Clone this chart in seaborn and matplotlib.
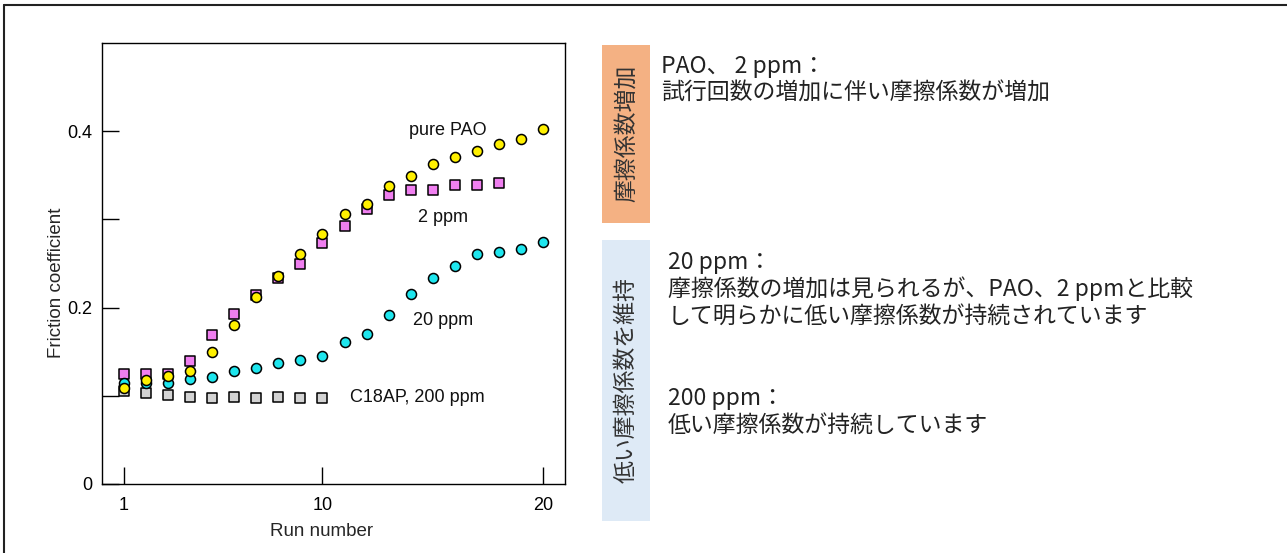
import numpy as np
import pandas as pd
import seaborn as sns
from matplotlib import pyplot as plt
from matplotlib.patches import Rectangle
from matplotlib.lines import Line2D

# 試行回数ごとの摩擦係数
run_pao = list(range(1, 21))
fric_pao = [0.109, 0.118, 0.123, 0.128, 0.150, 0.180, 0.212, 0.236, 0.261, 0.284,
            0.306, 0.317, 0.338, 0.349, 0.363, 0.371, 0.378, 0.386, 0.391, 0.403]

run_2ppm = list(range(1, 19))
fric_2ppm = [0.125, 0.125, 0.125, 0.139, 0.169, 0.193, 0.214, 0.233, 0.249, 0.273,
             0.293, 0.312, 0.328, 0.333, 0.333, 0.339, 0.339, 0.341]

run_20ppm = list(range(1, 21))
fric_20ppm = [0.115, 0.114, 0.114, 0.119, 0.121, 0.128, 0.131, 0.137, 0.141, 0.145,
              0.161, 0.170, 0.192, 0.215, 0.234, 0.247, 0.261, 0.263, 0.267, 0.274]

run_200ppm = list(range(1, 11))
fric_200ppm = [0.105, 0.103, 0.101, 0.099, 0.097, 0.099, 0.097, 0.099, 0.098, 0.098]

# 系列ラベル（位置は x, y のデータ座標）
series_labels = ['pure PAO', '2 ppm', '20 ppm', 'C18AP, 200 ppm']
label_x = [15.7, 15.45, 15.45, 11.25]
label_y = [0.401, 0.302, 0.185, 0.098]

x_ticks = [1, 10, 20]
y_ticks = [0, 0.2, 0.4]
y_minor = [0.1, 0.3]

# 右側の説明文
box_titles = ['摩擦係数増加', '低い摩擦係数を維持']
notes = [
    ('PAO、 2 ppm：', '試行回数の増加に伴い摩擦係数が増加'),
    ('20 ppm：', '摩擦係数の増加は見られるが、PAO、2 ppmと比較',
     'して明らかに低い摩擦係数が持続されています'),
    ('200 ppm：', '低い摩擦係数が持続しています'),
]

sns.set_style('white')
plt.rcParams['font.family'] = ['Liberation Sans', 'DejaVu Sans']
jp_font = ['Noto Sans CJK JP', 'DejaVu Sans']

W, H = 1287, 553
fig = plt.figure(figsize=(W / 100, H / 100), dpi=100)
ax = fig.add_axes([102 / W, 1 - 484 / H, 463 / W, 441 / H])

# 描画順: 灰 → ピンク → シアン → 黄
series = [
    (run_200ppm, fric_200ppm, 's', '#d3d3d3', 9.5),
    (run_2ppm, fric_2ppm, 's', '#f07ff0', 9.5),
    (run_20ppm, fric_20ppm, 'o', '#1ee6ee', 10),
    (run_pao, fric_pao, 'o', '#fff000', 10),
]
for i, (xs, ys, mk, col, ms) in enumerate(series):
    df = pd.DataFrame({'run': xs, 'fric': ys})
    sns.scatterplot(data=df, x='run', y='fric', marker=mk, color=col,
                    s=ms ** 2 * 0.52, edgecolor='black', linewidth=1.1,
                    zorder=3 + i, ax=ax)

for txt, lx, ly in zip(series_labels, label_x, label_y):
    ha = 'left' if txt.startswith('C18') else 'center'
    ax.text(lx, ly, txt, fontsize=13, ha=ha, va='center', color='#111111')

ax.set_xlim(0, 21)
ax.set_ylim(0, 0.5)
ax.set_xticks(x_ticks)
ax.set_xticklabels([str(t) for t in x_ticks])
ax.set_yticks(y_ticks)
ax.set_yticklabels(['0', '0.2', '0.4'])
ax.set_yticks(y_minor, minor=True)
ax.tick_params(axis='both', which='both', direction='in', length=12,
               width=1, colors='black', labelsize=13, left=True, bottom=True)
ax.tick_params(axis='x', pad=9)
ax.tick_params(axis='y', pad=7)
for sp in ax.spines.values():
    sp.set_visible(True)
    sp.set_color('black')
    sp.set_linewidth(1)

ax.set_xlabel('Run number', fontsize=13.5)
ax.set_ylabel('Friction coefficient', fontsize=13.5)
ax.xaxis.set_label_coords(0.4745, -0.108)
ax.yaxis.set_label_coords(-0.099, 0.456)
ax.xaxis.label.set_va('center')
ax.yaxis.label.set_va('center')

# 外枠（上と左）
fig.add_artist(Line2D([4 / W, 4 / W], [0, 1 - 5 / H], color='#222222', lw=1.5))
fig.add_artist(Line2D([4 / W, 1], [1 - 5 / H, 1 - 5 / H], color='#222222', lw=1.5))

# 色付きの縦ボックス
boxes = [(45, 222.7, '#f4b183'), (240, 520.7, '#deeaf6')]
for (top, bottom, col), title in zip(boxes, box_titles):
    fig.add_artist(Rectangle((602 / W, 1 - bottom / H), 48 / W, (bottom - top) / H,
                             transform=fig.transFigure, facecolor=col, edgecolor='none'))
    fig.text(626 / W, 1 - (top + bottom) / 2 / H, title, rotation=90,
             ha='center', va='center', fontsize=16.5, family=jp_font, color='#333333')

# 説明文（行ごとに配置）
note_x = [661, 668, 668]
note_y = [[66, 93], [262, 289, 316], [398, 425]]
for lines, nx, ys in zip(notes, note_x, note_y):
    for line, ly in zip(lines, ys):
        fig.text(nx / W, 1 - ly / H, line, ha='left', va='center',
                 fontsize=16.5, family=jp_font, color='#222222')

fig.savefig('out.png', dpi=100)
